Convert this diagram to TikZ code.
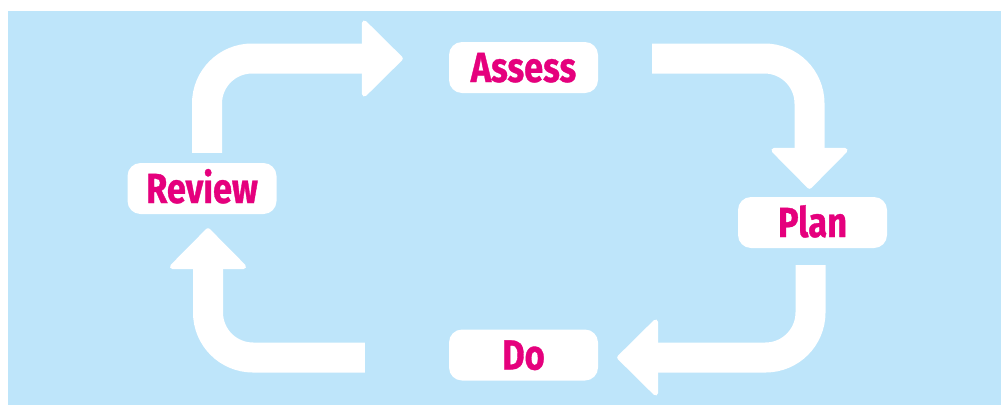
\documentclass[tikz,border=0pt]{standalone}
\usepackage{fontspec}
\setmainfont{Fira Sans}[FakeStretch=0.82, BoldFeatures={FakeBold=0.8}]
\usepackage{tikz}
\usetikzlibrary{positioning, shapes, arrows.meta, calc}

\definecolor{skyblue}{RGB}{190,229,250}
\definecolor{pdcamagenta}{RGB}{229,0,125}

\tikzset{
  stage/.style={rectangle, fill=white, rounded corners=13pt, minimum width=149pt,
    minimum height=51pt, text height=29pt, text depth=0pt, inner sep=0pt,
    text=pdcamagenta, font=\bfseries\fontsize{42}{42}\selectfont},
  flow/.style={white, line width=30pt, rounded corners=45pt,
    -{Triangle[width=82pt,length=42pt,round,line width=5pt]}}
}

\begin{document}
\begin{tikzpicture}[x=1pt, y=-1pt]
  \useasboundingbox (0,0) rectangle (1001,405);
  \fill[skyblue] (8,11) rectangle (1001,405);

  % Nodes
  \foreach \name/\label/\x/\y in {assess/Assess/523.5/67.5, plan/Plan/812.5/222.5,
                                  do/Do/523.5/355, review/Review/202/188.5}
  \node[stage] (\name) at (\x,\y) {\label};

  % Arrows
  \draw[flow] ([xshift=5pt, yshift=10pt]review.north) |- ([xshift=-46pt, yshift=9pt]assess.west);
  \draw[flow] ([xshift=54pt, yshift=9pt]assess.east) -| ([xshift=-3pt, yshift=8pt]plan.north);
  \draw[flow] ([xshift=-2pt, yshift=-17pt]plan.south) |- ([xshift=19pt, yshift=-2.5pt]do.east);
  \draw[flow] ([xshift=-84pt, yshift=-2.5pt]do.west) -| ([xshift=6pt, yshift=-14pt]review.south);
\end{tikzpicture}
\end{document}
